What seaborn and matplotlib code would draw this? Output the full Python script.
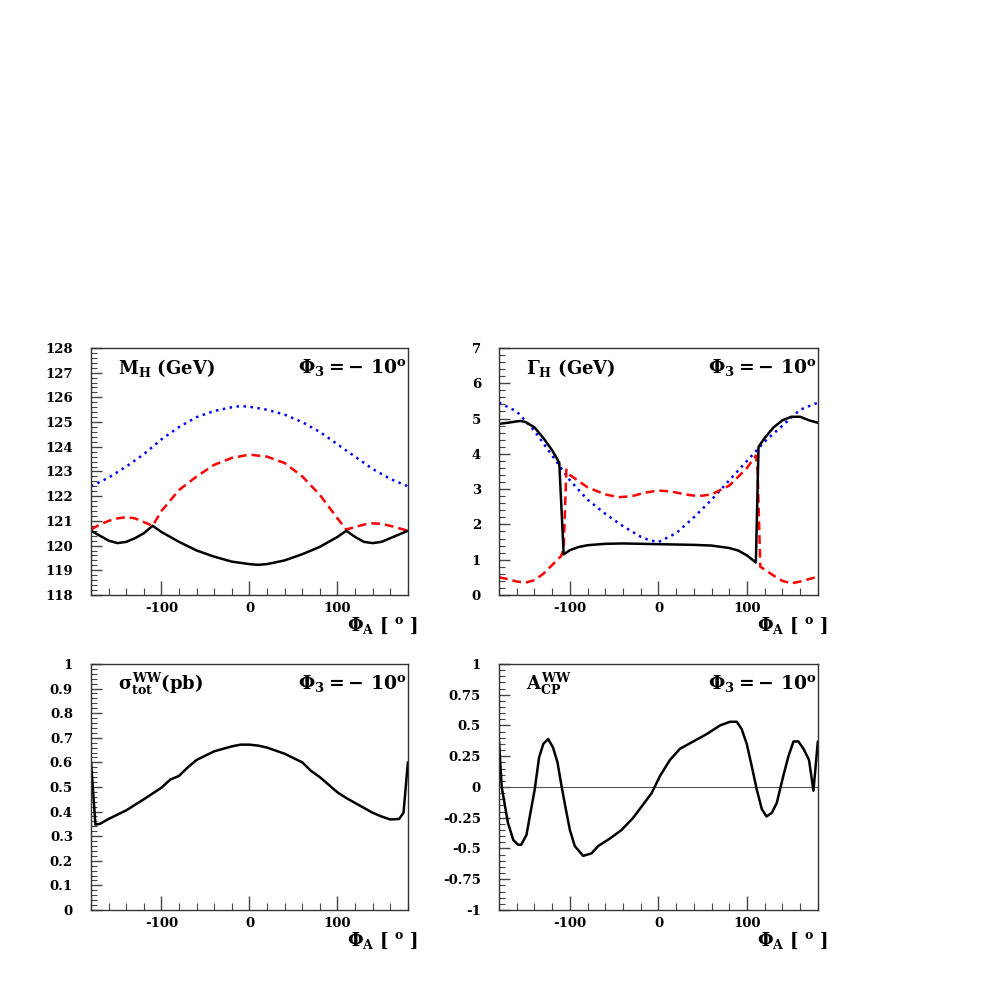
import numpy as np
import pandas as pd
import matplotlib
matplotlib.use("Agg")
import matplotlib.pyplot as plt
import seaborn as sns
from matplotlib.ticker import MultipleLocator

# ---- data ----
phi_a = [-180, -160, -140, -120, -100, -80, -60, -40, -20, -10, 0, 20, 40, 60, 80, 100, 120, 140, 160, 180]
mh_blue = [122.4, 122.75, 123.2, 123.7, 124.3, 124.8, 125.2, 125.45, 125.6, 125.65, 125.62,
           125.5, 125.3, 125.0, 124.6, 124.1, 123.6, 123.1, 122.7, 122.4]

mh_red_x = [-180, -170, -160, -150, -140, -130, -120, -110, -100, -80, -60, -40, -20, 0, 20, 40, 60, 80, 100, 110,
            120, 130, 140, 150, 160, 170, 180]
mh_red = [120.65, 120.85, 121.0, 121.1, 121.15, 121.1, 120.95, 120.8, 121.4, 122.25, 122.8, 123.27, 123.55, 123.68,
          123.6, 123.34, 122.8, 122.05, 121.1, 120.65, 120.75, 120.85, 120.9, 120.88, 120.8, 120.7, 120.6]

mh_black_x = [-180, -170, -160, -150, -140, -130, -120, -110, -100, -80, -60, -40, -20, 0, 10, 20, 40, 60, 80, 100,
              110, 120, 130, 140, 150, 160, 170, 180]
mh_black = [120.6, 120.4, 120.2, 120.1, 120.15, 120.3, 120.5, 120.8, 120.55, 120.15, 119.8, 119.55, 119.35, 119.25,
            119.22, 119.25, 119.4, 119.65, 119.95, 120.35, 120.6, 120.35, 120.15, 120.1, 120.15, 120.3, 120.45, 120.6]

gh_blue_x = phi_a
gh_blue = [5.45, 5.2, 4.65, 3.95, 3.25, 2.7, 2.3, 1.95, 1.65, 1.55, 1.5, 1.75, 2.2, 2.7, 3.25, 3.8, 4.35, 4.8,
           5.25, 5.45]

gh_black_x = [-180, -170, -160, -155, -150, -140, -130, -120, -112, -107, -100, -90, -80, -60, -40, -20, 0, 20, 40,
              60, 80, 90, 100, 110, 113, 120, 130, 140, 150, 160, 170, 180]
gh_black = [4.85, 4.88, 4.92, 4.93, 4.9, 4.75, 4.45, 4.1, 3.75, 1.15, 1.27, 1.36, 1.41, 1.45, 1.46, 1.45, 1.44,
            1.43, 1.42, 1.4, 1.33, 1.26, 1.12, 0.92, 4.2, 4.45, 4.75, 4.95, 5.05, 5.05, 4.95, 4.88]

gh_red_x = [-180, -170, -160, -150, -140, -130, -120, -110, -107, -104, -100, -80, -60, -45, -30, -15, 0, 15, 30,
            45, 60, 80, 100, 110, 112, 115, 120, 130, 140, 150, 160, 170, 180]
gh_red = [0.5, 0.45, 0.38, 0.35, 0.42, 0.6, 0.85, 1.1, 1.3, 3.55, 3.4, 3.05, 2.85, 2.77, 2.8, 2.9, 2.96, 2.93,
          2.85, 2.8, 2.85, 3.1, 3.6, 3.95, 3.5, 0.8, 0.72, 0.55, 0.4, 0.33, 0.38, 0.45, 0.52]

sig_x = [-180, -175, -170, -160, -140, -120, -100, -90, -80, -70, -60, -40, -20, -10, 0, 10, 20, 40, 60, 70, 80,
         100, 110, 120, 140, 150, 160, 170, 175, 180]
sig = [0.6, 0.347, 0.35, 0.37, 0.405, 0.45, 0.497, 0.53, 0.545, 0.58, 0.61, 0.645, 0.665, 0.672, 0.672, 0.668,
       0.66, 0.635, 0.6, 0.565, 0.54, 0.478, 0.455, 0.435, 0.395, 0.38, 0.368, 0.37, 0.395, 0.6]

acp_x = [-180, -177, -170, -164, -158.5, -155, -149, -145.3, -139.7, -134.8, -130, -124.6, -119, -114, -109.5,
         -104.6, -100, -94.5, -85, -75.6, -68, -55, -41.7, -28.5, -17, -7.7, 1.8, 13, 24.3, 39.4, 54.5, 69.5,
         80.8, 88.4, 94, 99.7, 105, 111, 116.7, 122, 128, 133.6, 141, 146.8, 152.5, 158, 163.8, 170, 175, 180]
acp = [0.37, 0.0, -0.29, -0.43, -0.47, -0.47, -0.39, -0.24, -0.02, 0.24, 0.35, 0.39, 0.32, 0.2, 0.01, -0.18,
       -0.35, -0.48, -0.56, -0.54, -0.48, -0.42, -0.35, -0.25, -0.14, -0.05, 0.09, 0.22, 0.31, 0.37, 0.43, 0.5,
       0.53, 0.53, 0.47, 0.35, 0.18, -0.02, -0.18, -0.24, -0.21, -0.13, 0.09, 0.25, 0.37, 0.37, 0.31, 0.22,
       -0.03, 0.37]

sig_labels = ["0", "0.1", "0.2", "0.3", "0.4", "0.5", "0.6", "0.7", "0.8", "0.9", "1"]
acp_labels = ["-1", "-0.75", "-0.5", "-0.25", "0", "0.25", "0.5", "0.75", "1"]

# ---- style ----
sns.set_style("white")
plt.rcParams["font.family"] = ["DejaVu Serif"]
plt.rcParams["font.weight"] = "bold"
plt.rcParams["text.color"] = "black"
plt.rcParams["xtick.labelcolor"] = "black"
plt.rcParams["ytick.labelcolor"] = "black"
plt.rcParams["mathtext.fontset"] = "custom"
plt.rcParams["mathtext.rm"] = "DejaVu Serif:bold"
plt.rcParams["mathtext.it"] = "DejaVu Serif:bold"
plt.rcParams["mathtext.bf"] = "DejaVu Serif:bold"

fig = plt.figure(figsize=(9.81, 9.81), dpi=100)
ax_mh = fig.add_axes([0.0928, 0.3935, 0.323, 0.2518])
ax_gh = fig.add_axes([0.5087, 0.3935, 0.325, 0.2518])
ax_sig = fig.add_axes([0.0928, 0.0724, 0.323, 0.2508])
ax_acp = fig.add_axes([0.5087, 0.0724, 0.325, 0.2508])

lw = 1.8
dot = (0, (1, 1.8))
dash = (0, (3.5, 2))

sns.lineplot(x=phi_a, y=mh_blue, ax=ax_mh, color="blue", lw=lw, linestyle=dot)
sns.lineplot(x=mh_red_x, y=mh_red, ax=ax_mh, color="red", lw=lw, linestyle=dash)
sns.lineplot(x=mh_black_x, y=mh_black, ax=ax_mh, color="black", lw=lw)

sns.lineplot(x=gh_blue_x, y=gh_blue, ax=ax_gh, color="blue", lw=lw, linestyle=dot)
sns.lineplot(x=gh_red_x, y=gh_red, ax=ax_gh, color="red", lw=lw, linestyle=dash)
sns.lineplot(x=gh_black_x, y=gh_black, ax=ax_gh, color="black", lw=lw)

sns.lineplot(x=sig_x, y=sig, ax=ax_sig, color="black", lw=lw)

ax_acp.axhline(0, color="#555555", lw=0.8)
sns.lineplot(x=acp_x, y=acp, ax=ax_acp, color="black", lw=lw)

panels = [
    (ax_mh, (118, 128), 1, 0.2, r"$\mathrm{M_H}$ (GeV)"),
    (ax_gh, (0, 7), 1, 0.2, r"$\Gamma_\mathrm{H}$ (GeV)"),
    (ax_sig, (0, 1), 0.1, 0.02, r"$\sigma^{WW}_{tot}$(pb)"),
    (ax_acp, (-1, 1), 0.25, 0.05, r"$A^{WW}_{CP}$"),
]

for ax, ylim, ymaj, ymin, label in panels:
    ax.set_xlim(-180, 180)
    ax.set_ylim(*ylim)
    ax.xaxis.set_major_locator(MultipleLocator(100))
    ax.xaxis.set_minor_locator(MultipleLocator(20))
    ax.yaxis.set_major_locator(MultipleLocator(ymaj))
    ax.yaxis.set_minor_locator(MultipleLocator(ymin))
    ax.tick_params(axis="both", which="both", direction="in", color="#444444",
                   top=False, right=False, bottom=True, left=True)
    ax.tick_params(axis="x", which="major", length=10, width=1, pad=5, labelsize=9.5)
    ax.tick_params(axis="x", which="minor", length=5, width=0.8)
    ax.tick_params(axis="y", which="major", length=8, width=1, pad=13, labelsize=9.5)
    ax.tick_params(axis="y", which="minor", length=4, width=0.8)
    ax.set_xticks([-100, 0, 100])
    ax.set_xticklabels(["-100", "0", "100"], fontweight="bold")
    for s in ax.spines.values():
        s.set_color("#333333")
        s.set_linewidth(1.0)
    ax.text(0.085, 0.92, label, transform=ax.transAxes, fontsize=13, fontweight="bold",
            ha="left", va="center")
    ax.text(0.995, 0.92, r"$\Phi_3 = -\ 10^o$", transform=ax.transAxes, fontsize=13.5,
            ha="right", va="center")
    ax.text(1.03, -0.125, r"$\Phi_A$ [ $^o$ ]", transform=ax.transAxes, fontsize=13,
            ha="right", va="center")
    ax.set_xlabel("")
    ax.set_ylabel("")

ax_sig.set_yticks(np.linspace(0, 1, 11))
ax_sig.set_yticklabels(sig_labels, fontweight="bold")
ax_acp.set_yticks(np.linspace(-1, 1, 9))
ax_acp.set_yticklabels(acp_labels, fontweight="bold")
for ax in (ax_mh, ax_gh):
    for t in ax.get_yticklabels():
        t.set_fontweight("bold")

fig.savefig("out.png", dpi=100)
